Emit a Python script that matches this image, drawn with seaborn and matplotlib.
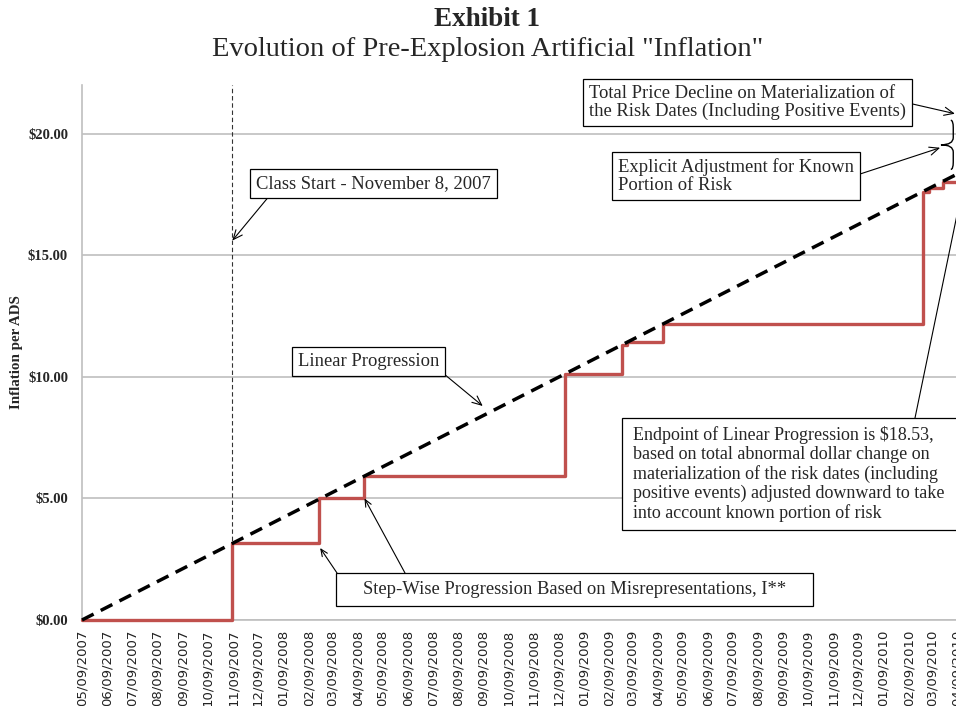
import numpy as np
import pandas as pd
import matplotlib
matplotlib.use("Agg")
import matplotlib.pyplot as plt
import matplotlib.dates as mdates
from matplotlib.path import Path
from matplotlib.patches import PathPatch, Rectangle
import seaborn as sns

# ── Data ──────────────────────────────────────────────────────────────────────
STEP_DATES = ["2007-05-09", "2007-11-08", "2008-02-22", "2008-04-17", "2008-12-17",
              "2009-02-25", "2009-03-03", "2009-04-16", "2010-02-26", "2010-03-06",
              "2010-03-22", "2010-04-20"]
STEP_VALUES = [0.00, 3.15, 5.02, 5.91, 10.12, 11.30, 11.42, 12.18, 17.62, 17.77, 18.03, 18.03]

LINEAR_DATES = ["2007-05-09", "2010-04-20"]
LINEAR_VALUES = [0.00, 18.53]

CLASS_START = "2007-11-08"
TOTAL_DECLINE = 20.55
Y_TICKS = [0, 5, 10, 15, 20]

# ── Style ─────────────────────────────────────────────────────────────────────
sns.set_style("white")
plt.rcParams["font.family"] = ["Liberation Serif", "DejaVu Serif"]

W, H = 956, 706
GRID = "#bfbfbf"
RED = "#C0504D"
FS = 13.4      # annotation font size
LS = 1.1       # annotation line spacing

fig = plt.figure(figsize=(W / 100, H / 100), dpi=100)
ax = fig.add_axes([82 / W, 1 - 620 / H, 900 / W, 535 / H])

step_df = pd.DataFrame({"date": pd.to_datetime(STEP_DATES), "value": STEP_VALUES})
lin_df = pd.DataFrame({"date": pd.to_datetime(LINEAR_DATES), "value": LINEAR_VALUES})

sns.lineplot(data=step_df, x="date", y="value", ax=ax, color=RED, lw=2.4,
             drawstyle="steps-post", clip_on=False, zorder=3)
sns.lineplot(data=lin_df, x="date", y="value", ax=ax, color="black", lw=2.5,
             linestyle=(0, (3.75, 2.3)), clip_on=False, zorder=4)
ax.axvline(pd.Timestamp(CLASS_START), color="#333333", lw=0.8,
           linestyle=(0, (4, 2.5)), zorder=2)

ax.set_xlim(pd.Timestamp("2007-05-09"), pd.Timestamp("2010-05-09"))
ax.set_ylim(0, 22)
ax.set_yticks(Y_TICKS)
ax.set_yticklabels([f"${v:.2f}" for v in Y_TICKS])
ax.xaxis.set_major_locator(mdates.MonthLocator(bymonthday=9))
ax.xaxis.set_major_formatter(mdates.DateFormatter("%m/%d/%Y"))
ax.tick_params(axis="x", rotation=90, labelsize=9.5, length=5, width=1, color=GRID,
               pad=2, labelfontfamily="DejaVu Sans", labelcolor="#222222")
ax.tick_params(axis="y", labelsize=10.5, length=5, width=1, color=GRID, pad=5)
for lab in ax.get_yticklabels():
    lab.set_fontweight("bold")

ax.grid(axis="y", color=GRID, lw=1.2)
ax.set_axisbelow(True)
sns.despine(ax=ax)
for side in ("left", "bottom"):
    ax.spines[side].set_color(GRID)
    ax.spines[side].set_linewidth(1.2)

ax.set_xlabel("")
ax.set_ylabel("Inflation per ADS", fontsize=10.8, fontweight="bold")
ax.yaxis.set_label_coords(-0.066, 0.5)

# ── Annotations ───────────────────────────────────────────────────────────────
BOX = dict(boxstyle="square,pad=0.32", fc="white", ec="black", lw=0.9)
ARROW = "->,head_length=0.5,head_width=0.22"


def px(x, y):
    return (x, H - y)


def dnum(s):
    return mdates.date2num(pd.Timestamp(s))


def fig_box(x, y, w, h):
    # plain white box in figure pixels (top-left origin)
    fig.add_artist(Rectangle((x / W, 1 - (y + h) / H), w / W, h / H,
                             transform=fig.transFigure, fc="white", ec="black",
                             lw=0.9, zorder=5))


ax.annotate("Class Start - November 8, 2007", xy=(dnum(CLASS_START), 15.6),
            xytext=px(373.5, 183.5), textcoords="figure pixels",
            ha="center", va="center", fontsize=FS, bbox=BOX,
            arrowprops=dict(arrowstyle=ARROW, color="black", lw=0.8,
                            relpos=(0.07, 0), shrinkA=0, shrinkB=0))

ax.annotate("Linear Progression", xy=(dnum("2008-09-08"), 8.8),
            xytext=px(368.5, 361.5), textcoords="figure pixels",
            ha="center", va="center", fontsize=FS, bbox=BOX,
            arrowprops=dict(arrowstyle=ARROW, color="black", lw=0.8,
                            relpos=(1, 0), shrinkA=0, shrinkB=0))

# step-wise label: wider box than its text
fig_box(336, 573, 477, 33)
fig.text(574.5 / W, 1 - 589.5 / H, "Step-Wise Progression Based on Misrepresentations, I**",
         ha="center", va="center", fontsize=FS, zorder=6)
for start, tip in [((337, 573), ("2008-02-23", 2.96)), ((405, 573), ("2008-04-17", 5.0))]:
    ax.annotate("", xy=(dnum(tip[0]), tip[1]), xytext=px(*start),
                textcoords="figure pixels",
                arrowprops=dict(arrowstyle=ARROW, color="black", lw=0.8,
                                shrinkA=0, shrinkB=0))

ax.annotate("Total Price Decline on Materialization of\nthe Risk Dates (Including Positive Events)",
            xy=(dnum("2010-04-06"), 20.82), xytext=px(747.5, 102.5),
            textcoords="figure pixels", ha="center", va="center",
            multialignment="left", linespacing=LS, fontsize=FS, bbox=BOX,
            annotation_clip=False,
            arrowprops=dict(arrowstyle=ARROW, color="black", lw=0.8,
                            relpos=(1, 0.5), shrinkA=0, shrinkB=0))

ax.annotate("Explicit Adjustment for Known\nPortion of Risk",
            xy=(dnum("2010-03-19"), 19.42), xytext=px(736, 176),
            textcoords="figure pixels", ha="center", va="center",
            multialignment="left", linespacing=LS, fontsize=FS, bbox=BOX,
            annotation_clip=False,
            arrowprops=dict(arrowstyle=ARROW, color="black", lw=0.8,
                            relpos=(1, 0.5), shrinkA=0, shrinkB=0))

# endpoint note: box runs past the right edge of the picture
fig_box(622, 418, 360, 112)
fig.text(633 / W, 1 - 474 / H,
         "Endpoint of Linear Progression is $18.53,\n"
         "based on total abnormal dollar change on\n"
         "materialization of the risk dates (including\n"
         "positive events) adjusted downward to take\n"
         "into account known portion of risk",
         ha="left", va="center", linespacing=1.14, fontsize=13, zorder=6)
ax.annotate("", xy=(dnum(LINEAR_DATES[-1]), LINEAR_VALUES[-1]), xytext=px(915, 418),
            textcoords="figure pixels", annotation_clip=False,
            arrowprops=dict(arrowstyle="-", color="black", lw=0.8,
                            shrinkA=0, shrinkB=0))

# curly brace between linear endpoint and total decline
x0 = dnum("2010-04-04")
tip_w, hook_w, d = 15, 3, 0.3
top, bot = TOTAL_DECLINE, LINEAR_VALUES[-1]
mid = (top + bot) / 2
verts = [(x0 - hook_w, top), (x0, top), (x0, top - d), (x0, mid + d),
         (x0, mid), (x0 - tip_w, mid), (x0, mid), (x0, mid - d),
         (x0, bot + d), (x0, bot), (x0 - hook_w, bot)]
codes = [Path.MOVETO, Path.CURVE3, Path.CURVE3, Path.LINETO,
         Path.CURVE3, Path.CURVE3, Path.CURVE3, Path.CURVE3,
         Path.LINETO, Path.CURVE3, Path.CURVE3]
ax.add_patch(PathPatch(Path(verts, codes), fc="none", ec="black", lw=1.0,
                       clip_on=False, zorder=5))

# ── Titles ────────────────────────────────────────────────────────────────────
fig.text(487 / W, 1 - 19 / H, "Exhibit 1", ha="center", va="center",
         fontsize=19.5, fontweight="bold")
fig.text(488 / W, 1 - 50 / H, 'Evolution of Pre-Explosion Artificial "Inflation"',
         ha="center", va="center", fontsize=20.5)

fig.savefig("out.png", dpi=100)
plt.close(fig)
